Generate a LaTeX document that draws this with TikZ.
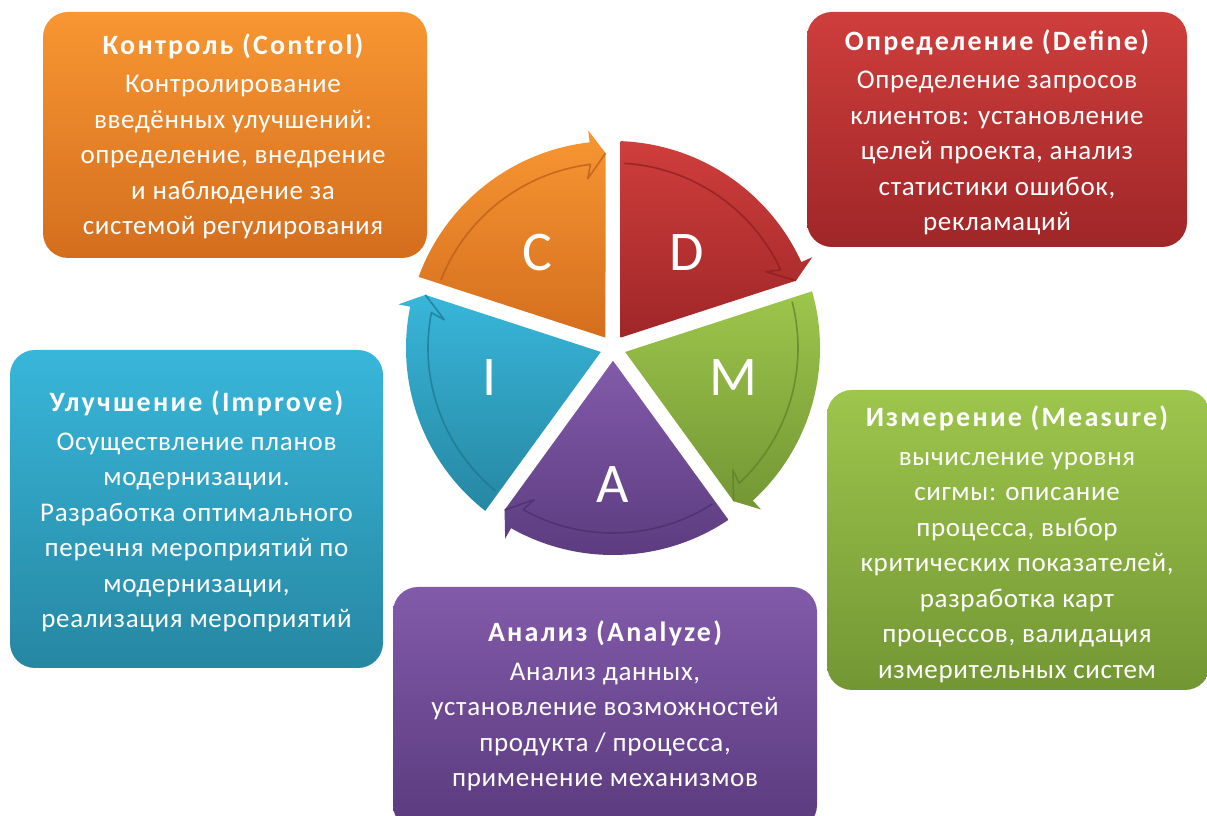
\documentclass[tikz,border=0pt]{standalone}
\usepackage{fontspec}
\setmainfont{Carlito}[LetterSpace=2.5]
\newfontfamily\titlefont{Carlito}[LetterSpace=8]
\definecolor{orT}{RGB}{248,150,50}\definecolor{orB}{RGB}{212,110,30}\definecolor{orL}{RGB}{180,90,25}
\definecolor{rdT}{RGB}{206,62,60}\definecolor{rdB}{RGB}{160,38,40}\definecolor{rdL}{RGB}{135,30,32}
\definecolor{gnT}{RGB}{157,198,76}\definecolor{gnB}{RGB}{115,150,52}\definecolor{gnL}{RGB}{95,125,40}
\definecolor{puT}{RGB}{130,90,170}\definecolor{puB}{RGB}{90,58,125}\definecolor{puL}{RGB}{75,45,105}
\definecolor{blT}{RGB}{56,182,218}\definecolor{blB}{RGB}{38,135,162}\definecolor{blL}{RGB}{30,115,140}
\newcommand\boxtitle[1]{{\fontsize{28pt}{35.5pt}\titlefont\bfseries #1}\\[3pt]}
\newcommand\dmaicsector[4]{%
  \pgfmathsetmacro\sa{#1}%
  \pgfmathsetmacro\sb{#1-2.1}%
  \pgfmathsetmacro\eb{#1-72}%
  \pgfmathsetmacro\ec{#1-72+6.5}%
  \pgfmathsetmacro\et{#1-72+2.2}%
  \pgfmathsetmacro\mb{#1-36}%
  \pgfmathsetmacro\la{#1-3.5}%
  \pgfmathsetmacro\lb{#1-72+7}%
  \pgfmathsetmacro\lc{#1-72+8.5}%
  \path[top color=#2, bottom color=#3]
    (\mb:12.8) -- (\sb:207) arc[start angle=\sb, end angle=\ec, radius=207]
    -- (\ec:219) -- (\et:195) -- cycle;
  \draw[draw=#4, line width=1.6pt, opacity=0.7, line join=round]
    (\la:185) arc[start angle=\la, end angle=\lb, radius=185] -- (\lc:171) -- (\et:195);
}
\begin{document}
\begin{tikzpicture}[x=1pt,y=1pt,
  infobox/.style={rounded corners=25pt, align=center, text=white, inner sep=0pt,
    font=\fontsize{27pt}{35.5pt}\selectfont},
  letter/.style={text=white, font=\fontsize{56pt}{60pt}\fontspec{Carlito}, inner sep=0pt}]
\useasboundingbox (0,0) rectangle (1207,816);
\clip (0,0) rectangle (1207,816);
% boxes
\node[infobox, top color=orT, bottom color=orB, minimum width=384pt, minimum height=246pt] (ctrl) at (235,681) {};
\node[infobox, top color=rdT, bottom color=rdB, minimum width=380pt, minimum height=235pt] (def) at (997,686.5) {};
\node[infobox, top color=blT, bottom color=blB, minimum width=373pt, minimum height=318pt] (imp) at (196.5,307) {};
\node[infobox, top color=gnT, bottom color=gnB, minimum width=383pt, minimum height=300pt] (mea) at (1018.5,276) {};
\node[infobox, top color=puT, bottom color=puB, minimum width=424pt, minimum height=243pt] (ana) at (605,107.5) {};
% texts
\node[infobox] (ctrlt) at (233,679.5) {\boxtitle{Контроль (Control)}Контролирование\\введённых улучшений:\\определение, внедрение\\и наблюдение за\\системой регулирования};
\node[infobox] (deft) at (997,683.5) {\boxtitle{Определение (Define)}Определение запросов\\клиентов: установление\\целей проекта, анализ\\статистики ошибок,\\рекламаций};
\node[infobox] (impt) at (196.5,304.5) {\boxtitle{Улучшение (Improve)}Осуществление планов\\модернизации.\\Разработка оптимального\\перечня мероприятий по\\модернизации,\\реализация мероприятий};
\node[infobox] (meat) at (1017,271.5) {\boxtitle{Измерение (Measure)}вычисление уровня\\сигмы: описание\\процесса, выбор\\критических показателей,\\разработка карт\\процессов, валидация\\измерительных систем};
\node[infobox] (anat) at (605,110) {\boxtitle{Анализ (Analyze)}Анализ данных,\\установление возможностей\\продукта / процесса,\\применение механизмов};
% cycle
\begin{scope}[shift={(613,468)}]
  \dmaicsector{162}{orT}{orB}{orL}
  \dmaicsector{90}{rdT}{rdB}{rdL}
  \dmaicsector{18}{gnT}{gnB}{gnL}
  \dmaicsector{-54}{puT}{puB}{puL}
  \dmaicsector{-126}{blT}{blB}{blL}
\end{scope}
\node[letter] (lc) at (537,563) {C};
\node[letter] (ld) at (687,563) {D};
\node[letter] (lm) at (733,438) {M};
\node[letter] (li) at (490,438) {I};
\node[letter] (la) at (613,331) {A};
\end{tikzpicture}
\end{document}
